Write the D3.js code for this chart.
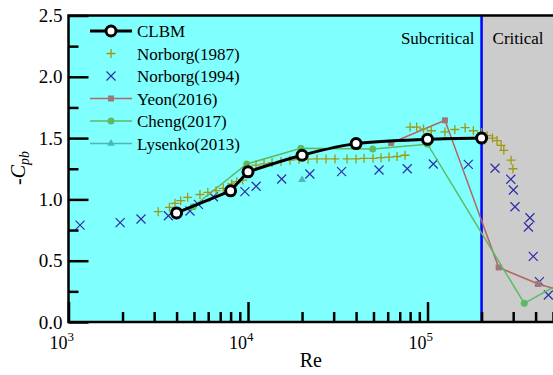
<!DOCTYPE html>
<html>
<head>
<meta charset="utf-8">
<script src="https://cdn.jsdelivr.net/npm/d3@7"></script>
<style>
  html, body { margin: 0; padding: 0; background: #fff; }
  svg { display: block; }
  svg text { font-family: "Liberation Serif", "Times New Roman", serif; }
</style>
</head>
<body>
<svg id="chart" width="553" height="375"></svg>
<script>
// Base pressure coefficient -Cpb versus Reynolds number
const clbm = [[4000,0.89],[8000,1.07],[10000,1.225],[20000,1.36],[40000,1.455],[100000,1.49],[200000,1.50]];

const norborg1987 = [
  [3160,0.90],[3650,0.935],[3920,0.968],[4220,0.99],[4610,1.017],[5400,1.04],[5970,1.058],
  [6640,1.071],[7280,1.09],[8110,1.126],[8650,1.144],[9340,1.158],
  [10000,1.265],[11080,1.28],[12280,1.29],[13610,1.30],[15270,1.31],[17140,1.32],[19240,1.325],
  [21590,1.328],[24230,1.33],[27200,1.33],[30520,1.33],[35610,1.33],[39970,1.33],[44290,1.335],
  [49700,1.335],[55070,1.34],[61040,1.345],[67640,1.35],[74950,1.36],
  [80000,1.59],[87000,1.59],[95000,1.575],[105000,1.56],[125000,1.55],[142000,1.57],
  [162000,1.585],[180000,1.56],[200000,1.545],
  [215000,1.52],[230000,1.50],[244000,1.48],[257000,1.44],[266000,1.40],[292000,1.32],[299000,1.25]
];

const norborg1994 = [
  [1160,0.79],[1940,0.81],[2535,0.84],[3600,0.867],[4750,0.905],[5290,0.96],[6410,1.022],
  [9610,1.063],[11100,1.107],[15400,1.166],[22100,1.207],[33200,1.226],[53700,1.24],
  [77100,1.25],[107700,1.289],[168700,1.286],[237700,1.254],[291000,1.164],[300800,1.077],
  [307000,0.94],[372000,0.85],[364700,0.775],[388000,0.535],[420000,0.329],[471000,0.22]
];

const yeon2016 = [[62700,1.46],[125000,1.645],[249000,0.445],[414000,0.31],[560000,0.254]];
const cheng2017 = [[4950,0.94],[9840,1.289],[19700,1.417],[49500,1.411],[100000,1.45],[346000,0.152],[560000,0.323]];
const lysenko2013 = [[20000,1.16]];

const regimeBoundary = 200000;
const xTickMajor = [1e3, 1e4, 1e5];
const yTicksMajor = [0, 0.5, 1.0, 1.5, 2.0, 2.5];
const legendLabels = ["CLBM", "Norborg(1987)", "Norborg(1994)", "Yeon(2016)", "Cheng(2017)", "Lysenko(2013)"];

const FONT = "Liberation Serif";
const svg = d3.select("#chart");
const pLeft = 68.5, pRight = 553, pTop = 15.5, pBottom = 322;

const x = d3.scaleLog().domain([1e3, 5e5]).range([pLeft, pRight]);
const y = d3.scaleLinear().domain([0, 2.5]).range([pBottom, pTop]);

const colors = {
  cyan: "#80FFFF", grey: "#CCCCCC", boundary: "#0000FF",
  plus: "#9C9A14", cross: "#2E2EA8",
  yeonLine: "#B46464", yeonMark: "#9E7878",
  cheng: "#5CBA64", lysenko: "#4CB8B4"
};

// Regime backgrounds
svg.append("rect").attr("x", pLeft).attr("y", pTop)
  .attr("width", x(regimeBoundary) - pLeft).attr("height", pBottom - pTop).attr("fill", colors.cyan);
svg.append("rect").attr("x", x(regimeBoundary)).attr("y", pTop)
  .attr("width", pRight - x(regimeBoundary)).attr("height", pBottom - pTop).attr("fill", colors.grey);

svg.append("defs").append("clipPath").attr("id", "plotClip")
  .append("rect").attr("x", pLeft).attr("y", pTop).attr("width", pRight - pLeft).attr("height", pBottom - pTop);

const plot = svg.append("g").attr("clip-path", "url(#plotClip)");

// Regime boundary
plot.append("line")
  .attr("x1", x(regimeBoundary)).attr("x2", x(regimeBoundary))
  .attr("y1", pTop).attr("y2", pBottom)
  .attr("stroke", colors.boundary).attr("stroke-width", 2.5);

const line = d3.line().x(d => x(d[0])).y(d => y(d[1]));
const smoothLine = d3.line().x(d => x(d[0])).y(d => y(d[1])).curve(d3.curveMonotoneX);

const plusPath = "M-4.5,0H4.5M0,-4.5V4.5";
const crossPath = "M-4.5,-4.5L4.5,4.5M-4.5,4.5L4.5,-4.5";
const triPath = d3.symbol().type(d3.symbolTriangle).size(26)();

// Norborg (1994) crosses
plot.append("g").selectAll("path").data(norborg1994).join("path")
  .attr("transform", d => `translate(${x(d[0])},${y(d[1])})`)
  .attr("d", crossPath).attr("stroke", colors.cross).attr("stroke-width", 1.2).attr("fill", "none");

// Yeon (2016)
plot.append("path").datum(yeon2016).attr("d", line)
  .attr("fill", "none").attr("stroke", colors.yeonLine).attr("stroke-width", 1.5);
plot.append("g").selectAll("rect").data(yeon2016).join("rect")
  .attr("x", d => x(d[0]) - 3).attr("y", d => y(d[1]) - 3)
  .attr("width", 6).attr("height", 6).attr("fill", colors.yeonMark);

// Cheng (2017)
plot.append("path").datum(cheng2017).attr("d", line)
  .attr("fill", "none").attr("stroke", colors.cheng).attr("stroke-width", 1.5);
plot.append("g").selectAll("circle").data(cheng2017).join("circle")
  .attr("cx", d => x(d[0])).attr("cy", d => y(d[1])).attr("r", 3.5).attr("fill", colors.cheng);

// Lysenko (2013)
plot.append("g").selectAll("path").data(lysenko2013).join("path")
  .attr("transform", d => `translate(${x(d[0])},${y(d[1])})`)
  .attr("d", triPath).attr("fill", colors.lysenko);

// Norborg (1987) pluses
plot.append("g").selectAll("path").data(norborg1987).join("path")
  .attr("transform", d => `translate(${x(d[0])},${y(d[1])})`)
  .attr("d", plusPath).attr("stroke", colors.plus).attr("stroke-width", 1.3).attr("fill", "none");

// CLBM: straight segments at low Re, smooth curve from 1e4 upward
plot.append("path").datum(clbm.slice(0, 3)).attr("d", line)
  .attr("fill", "none").attr("stroke", "#000").attr("stroke-width", 3).attr("stroke-linejoin", "round");
plot.append("path").datum(clbm.slice(2)).attr("d", smoothLine)
  .attr("fill", "none").attr("stroke", "#000").attr("stroke-width", 3);
plot.append("g").selectAll("circle").data(clbm).join("circle")
  .attr("cx", d => x(d[0])).attr("cy", d => y(d[1])).attr("r", 5)
  .attr("fill", "#fff").attr("stroke", "#000").attr("stroke-width", 3);

// Axes with inward ticks
const xMinor = [];
[1e3, 1e4, 1e5].forEach(dec => { for (let k = 2; k <= 9; k++) { const v = k * dec; if (v <= 5e5) xMinor.push(v); } });
const yMinor = [0.25, 0.75, 1.25, 1.75, 2.25];

function styleAxis(g) {
  g.attr("font-family", FONT);
  g.select(".domain").remove();
  g.selectAll(".tick line").attr("stroke", "#000").attr("stroke-width", 2.5);
  g.selectAll(".tick text").attr("fill", "#000");
}

const gxMinor = svg.append("g").attr("transform", `translate(0,${pBottom})`)
  .call(d3.axisBottom(x).tickValues(xMinor).tickSize(-10).tickFormat(""));
styleAxis(gxMinor);
const gx = svg.append("g").attr("transform", `translate(0,${pBottom})`)
  .call(d3.axisBottom(x).tickValues(xTickMajor).tickSize(-20).tickFormat(""));
styleAxis(gx);
gx.selectAll(".tick text").remove();
gx.selectAll(".tick").each(function(d) {
  const t = d3.select(this).append("text")
    .attr("x", 5).attr("y", 26.5).attr("text-anchor", "end")
    .attr("font-family", FONT).attr("font-size", 18).attr("fill", "#000");
  t.append("tspan").text("10");
  t.append("tspan").attr("font-size", 13).attr("dy", -7.5).text(Math.round(Math.log10(d)));
});

const gyMinor = svg.append("g").attr("transform", `translate(${pLeft},0)`)
  .call(d3.axisLeft(y).tickValues(yMinor).tickSize(-10).tickFormat(""));
styleAxis(gyMinor);
const gy = svg.append("g").attr("transform", `translate(${pLeft},0)`)
  .call(d3.axisLeft(y).tickValues(yTicksMajor).tickSize(-20).tickPadding(6).tickFormat(d3.format(".1f")));
styleAxis(gy);
gy.selectAll(".tick text").attr("font-size", 19).attr("font-family", FONT);

// Frame
svg.append("path")
  .attr("d", `M${pRight},${pTop}H${pLeft}V${pBottom}H${pRight}`)
  .attr("fill", "none").attr("stroke", "#000").attr("stroke-width", 2.5);

// Regime labels
svg.append("text").attr("x", x(regimeBoundary) - 7).attr("y", 43.5)
  .attr("text-anchor", "end").attr("font-family", FONT).attr("font-size", 17).text("Subcritical");
svg.append("text").attr("x", x(regimeBoundary) + 11).attr("y", 43.5)
  .attr("text-anchor", "start").attr("font-family", FONT).attr("font-size", 17).text("Critical");

// Axis titles
svg.append("text").attr("x", (pLeft + pRight) / 2).attr("y", 366.5)
  .attr("text-anchor", "middle").attr("font-family", FONT).attr("font-size", 20).text("Re");

const yTitle = svg.append("text")
  .attr("transform", `translate(25,168) rotate(-90)`)
  .attr("text-anchor", "middle").attr("font-family", FONT).attr("font-size", 20);
yTitle.append("tspan").text("-");
yTitle.append("tspan").attr("font-style", "italic").text("C");
yTitle.append("tspan").attr("font-style", "italic").attr("font-size", 14).attr("dy", 4).text("pb");

// Legend
const legend = svg.append("g");
const rowY = i => 31 + i * 22.5;
const lx0 = 90, lx1 = 132, lxm = 111;
legendLabels.forEach((lab, i) => {
  legend.append("text").attr("x", 137).attr("y", rowY(i) + 6)
    .attr("font-family", FONT).attr("font-size", 17).text(lab);
});
// CLBM
legend.append("line").attr("x1", lx0).attr("x2", lx1).attr("y1", rowY(0)).attr("y2", rowY(0))
  .attr("stroke", "#000").attr("stroke-width", 3);
legend.append("circle").attr("cx", lxm).attr("cy", rowY(0)).attr("r", 5)
  .attr("fill", "#fff").attr("stroke", "#000").attr("stroke-width", 3);
// Norborg 1987
legend.append("path").attr("transform", `translate(${lxm},${rowY(1)})`).attr("d", plusPath)
  .attr("stroke", colors.plus).attr("stroke-width", 1.3);
// Norborg 1994
legend.append("path").attr("transform", `translate(${lxm},${rowY(2)})`).attr("d", crossPath)
  .attr("stroke", colors.cross).attr("stroke-width", 1.2);
// Yeon
legend.append("line").attr("x1", lx0).attr("x2", lx1).attr("y1", rowY(3)).attr("y2", rowY(3))
  .attr("stroke", colors.yeonLine).attr("stroke-width", 1.5);
legend.append("rect").attr("x", lxm - 3).attr("y", rowY(3) - 3).attr("width", 6).attr("height", 6)
  .attr("fill", colors.yeonMark);
// Cheng
legend.append("line").attr("x1", lx0).attr("x2", lx1).attr("y1", rowY(4)).attr("y2", rowY(4))
  .attr("stroke", colors.cheng).attr("stroke-width", 1.5);
legend.append("circle").attr("cx", lxm).attr("cy", rowY(4)).attr("r", 3.5).attr("fill", colors.cheng);
// Lysenko
legend.append("line").attr("x1", lx0).attr("x2", lx1).attr("y1", rowY(5)).attr("y2", rowY(5))
  .attr("stroke", colors.lysenko).attr("stroke-width", 1.5);
legend.append("path").attr("transform", `translate(${lxm},${rowY(5)})`).attr("d", triPath)
  .attr("fill", colors.lysenko);
</script>
</body>
</html>
